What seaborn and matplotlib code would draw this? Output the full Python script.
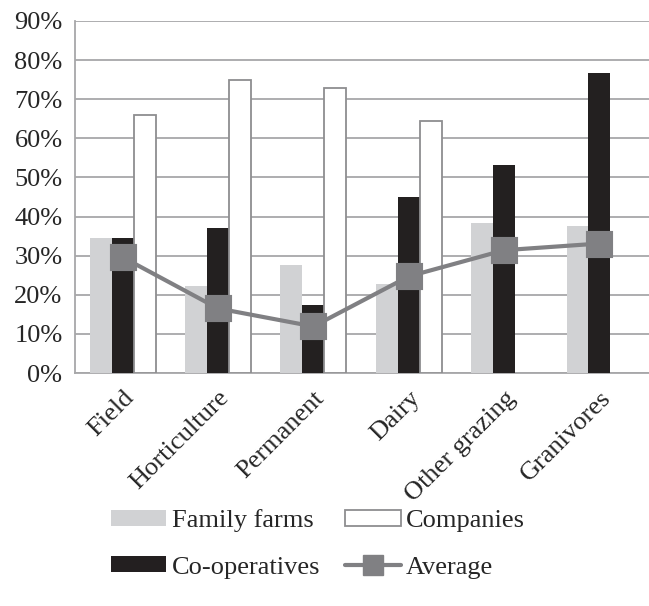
import numpy as np
import pandas as pd
import matplotlib.pyplot as plt
import matplotlib.patches as mpatches
import matplotlib.lines as mlines
import seaborn as sns

# Data
categories = ['Field', 'Horticulture', 'Permanent', 'Dairy', 'Other grazing', 'Granivores']
family_farms = [0.346, 0.223, 0.275, 0.228, 0.383, 0.377]
co_operatives = [0.346, 0.372, 0.175, 0.451, 0.533, 0.767]
companies = [0.659, 0.750, 0.729, 0.644, np.nan, np.nan]
average = [0.296, 0.165, 0.119, 0.247, 0.314, 0.331]

series = ['Family farms', 'Co-operatives', 'Companies']
colors = {'Family farms': '#d1d2d4', 'Co-operatives': '#231f20', 'Companies': '#ffffff'}
grid_color = '#a7a7a9'
avg_color = '#808083'

df = pd.DataFrame({'category': categories * 3,
                   'series': np.repeat(series, len(categories)),
                   'value': family_farms + co_operatives + companies})

sns.set_style('white')
plt.rcParams['font.family'] = ['Liberation Serif', 'DejaVu Serif']

fig = plt.figure(figsize=(6.49, 6.06), dpi=100)
ax = fig.add_axes([75 / 649, 1 - 373 / 606, 1 - 75 / 649, (373 - 21) / 606])

sns.barplot(data=df, x='category', y='value', hue='series', hue_order=series,
            palette=colors, width=0.69, ax=ax, legend=False, zorder=3)

# companies get a gray outline, the rest no edge
for bar in ax.patches:
    fc = bar.get_facecolor()
    if fc[0] > 0.99 and fc[1] > 0.99:
        bar.set_edgecolor('#8e8e90')
        bar.set_linewidth(1.3)
    else:
        bar.set_linewidth(0)

sns.pointplot(x=categories, y=average, color=avg_color, marker='s', markersize=17.5,
              linewidth=3, ax=ax, zorder=5)

# axes styling
ax.set_ylim(0, 0.9)
ax.set_xlim(-0.5, len(categories) - 0.5 + 0.02)
ax.set_yticks(np.arange(0, 0.91, 0.1))
ax.set_yticklabels([f'{int(round(v * 100))}%' for v in np.arange(0, 0.91, 0.1)])
ax.yaxis.grid(True, color=grid_color, linewidth=1.3, zorder=0)
ax.set_axisbelow(True)
ax.set_xlabel('')
ax.set_ylabel('')
for side in ['top', 'right']:
    ax.spines[side].set_visible(False)
for side in ['left', 'bottom']:
    ax.spines[side].set_color(grid_color)
    ax.spines[side].set_linewidth(1.3)

ax.tick_params(axis='y', length=6, width=1.3, color=grid_color, labelsize=19, pad=3)
ax.set_xticks(range(len(categories)))
ax.set_xticklabels(categories, rotation=45, ha='right', rotation_mode='anchor', fontsize=19)
ax.tick_params(axis='x', length=0, pad=10)
ax.set_xticks(np.arange(-0.5, len(categories), 1.0), minor=True)
ax.tick_params(axis='x', which='minor', length=7, width=1.3, color=grid_color)

# legend under the plot
handles = [
    mpatches.Patch(facecolor=colors['Family farms'], edgecolor='none', label='Family farms'),
    mpatches.Patch(facecolor=colors['Co-operatives'], edgecolor='none', label='Co-operatives'),
    mpatches.Patch(facecolor='white', edgecolor='#8e8e90', linewidth=1.3, label='Companies'),
    mlines.Line2D([], [], color=avg_color, linewidth=3, marker='s', markersize=14, label='Average'),
]
fig.legend(handles=handles, ncol=2, loc='center', bbox_to_anchor=(318 / 649, 1 - 544 / 606),
           frameon=False, fontsize=19, handlelength=2.1, handleheight=0.55,
           labelspacing=0.9, columnspacing=0.95, handletextpad=0.2)

fig.savefig('out.png', dpi=100)
